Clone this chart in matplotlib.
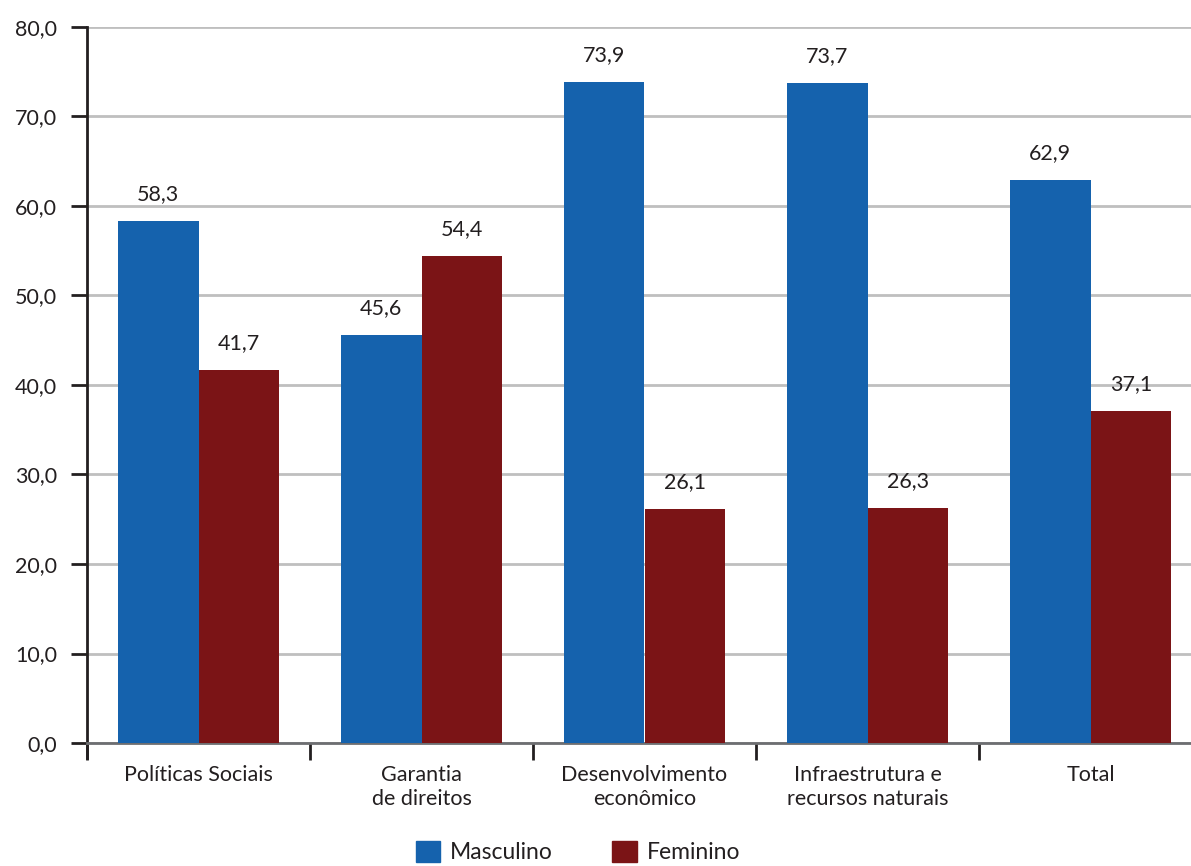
import matplotlib
matplotlib.use("Agg")
import matplotlib.pyplot as plt
import numpy as np
from matplotlib.patches import Patch

categories = ["Políticas Sociais", "Garantia\nde direitos", "Desenvolvimento\neconômico",
              "Infraestrutura e\nrecursos naturais", "Total"]
masculino = [58.3, 45.6, 73.9, 73.7, 62.9]
feminino = [41.7, 54.4, 26.1, 26.3, 37.1]
yticks = [0, 10, 20, 30, 40, 50, 60, 70, 80]
series_names = ["Masculino", "Feminino"]

BLUE = "#1562AD"
RED = "#7B1416"
TXT = "#231F20"
FS = 15.5

plt.rcParams['font.family'] = ['Lato', 'DejaVu Sans']

fig = plt.figure(figsize=(11.91, 8.66), dpi=100)
ax = fig.add_axes([87/1191, (866-743)/866, 1 - 87/1191, (743-27)/866])

x = np.arange(len(categories))
w = 0.363
b1 = ax.bar(x - w/2, masculino, w, color=BLUE, zorder=3, linewidth=0)
b2 = ax.bar(x + w/2, feminino, w, color=RED, zorder=3, linewidth=0)

def fmt(v):
    return f"{v:.1f}".replace(".", ",")

for bars, vals in ((b1, masculino), (b2, feminino)):
    for r, v in zip(bars, vals):
        ax.annotate(fmt(v), (r.get_x() + r.get_width()/2, v), xytext=(0, 21),
                    textcoords='offset pixels', ha='center', va='baseline',
                    fontsize=FS, color=TXT)

ax.set_yticks(yticks)
ax.set_yticklabels([fmt(v) for v in yticks], fontsize=FS, color=TXT)
ax.yaxis.grid(True, color="#BFBFBF", linewidth=2, zorder=0)
ax.set_axisbelow(True)

ax.set_xticks(np.arange(-0.5, len(categories) + 0.5, 1.0))
ax.set_xticklabels([])
ax.set_xticks(x, minor=True)
ax.set_xticklabels(categories, minor=True, fontsize=FS, color=TXT, linespacing=1.22)
ax.tick_params(axis='x', which='major', length=12, width=2, color=TXT, direction='out')
ax.tick_params(axis='x', which='minor', length=0, pad=16)
ax.tick_params(axis='y', length=11.5, width=2, color=TXT, pad=10)

ax.set_xlim(-0.5, -0.5 + (1191-87)/223)
ax.set_ylim(0, 80)

for s in ("top", "right"):
    ax.spines[s].set_visible(False)
ax.spines["left"].set_linewidth(2)
ax.spines["left"].set_color(TXT)
ax.spines["bottom"].set_color("#6D6E71")
ax.spines["bottom"].set_linewidth(2)
ax.spines["left"].set_bounds(-1.7, 80)
ax.spines["left"].set_clip_on(False)

handles = [Patch(color=BLUE), Patch(color=RED)]
fig.legend(handles, series_names, loc='center', bbox_to_anchor=(578/1191, 14/866),
           ncol=2, frameon=False, fontsize=16.5, handlelength=1.05, handleheight=1.05,
           columnspacing=2.6, handletextpad=0.45, labelcolor=TXT)

fig.savefig("out.png", dpi=100)
